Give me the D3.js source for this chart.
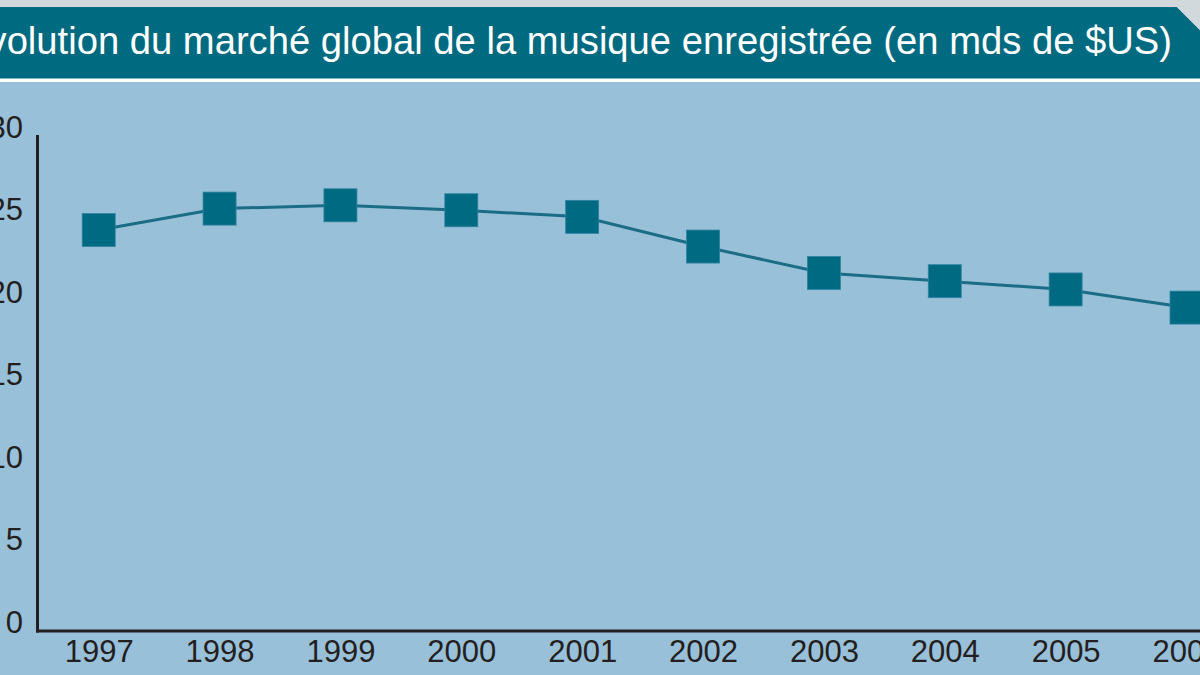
<!DOCTYPE html>
<html>
<head>
<meta charset="utf-8">
<script src="https://cdn.jsdelivr.net/npm/d3@7"></script>
<style>
  body { margin: 0; padding: 0; background: #99c0d9; overflow: hidden; }
  svg { display: block; }
</style>
</head>
<body>
<div id="chart"></div>
<script>
// data
var years = ["1997", "1998", "1999", "2000", "2001", "2002", "2003", "2004", "2005", "2006"]
var sales = [24.3, 25.6, 25.8, 25.5, 25.1, 23.3, 21.7, 21.2, 20.7, 19.6]
var yTicks = [0, 5, 10, 15, 20, 25, 30]
var title = "Évolution du marché global de la musique enregistrée (en mds de $US)"

var width = 1200
var height = 675
var teal = "#006a80"

var svg = d3.select("div#chart")
  .append("svg")
  .attr("width", width)
  .attr("height", height)

// background
svg.append("rect")
  .attr("x", 0).attr("y", 0)
  .attr("width", width).attr("height", height)
  .style("fill", "#99c0d9")

svg.append("rect")
  .attr("x", 0).attr("y", 0)
  .attr("width", width).attr("height", 82)
  .style("fill", "#ffffff")

svg.append("rect")
  .attr("x", 0).attr("y", 0)
  .attr("width", width).attr("height", 7)
  .style("fill", "#d2d9dc")

// title band with the cut corner top right
svg.append("path")
  .attr("d", "M0,7 L1177,7 L1200,30 L1200,78.5 L0,78.5 Z")
  .style("fill", teal)

svg.append("path")
  .attr("d", "M1177,7 L1200,7 L1200,30 Z")
  .style("fill", "#d2d9dc")

// title runs off the left edge, like in the original
svg.append("text")
  .attr("x", 1172)
  .attr("y", 54)
  .attr("text-anchor", "end")
  .style("font-family", "'Liberation Sans', Arial, sans-serif")
  .style("font-size", "38.2px")
  .style("fill", "#ffffff")
  .text(title)

// scales
var x = d3.scalePoint()
  .domain(years)
  .range([98.7, 1186.5])

var y = d3.scaleLinear()
  .domain([0, 30])
  .range([631, 136])

var labelFont = "'Liberation Sans', Arial, sans-serif"

// y axis labels (baseline sits on the value)
var yAxis = d3.axisLeft(y)
  .tickValues(yTicks)
  .tickSize(0)
  .tickPadding(0)

var gy = svg.append("g")
  .attr("transform", "translate(23,0)")
  .call(yAxis)
gy.select(".domain").remove()
gy.selectAll("text")
  .attr("dy", "0")
  .attr("y", 1)
  .style("font-family", labelFont)
  .style("font-size", "31px")
  .style("fill", "#231f20")

// x axis labels
var xAxis = d3.axisBottom(x)
  .tickSize(0)
  .tickPadding(0)

var gx = svg.append("g")
  .attr("transform", "translate(0,662)")
  .call(xAxis)
gx.select(".domain").remove()
gx.selectAll("text")
  .attr("dy", "0")
  .attr("y", 0)
  .style("font-family", labelFont)
  .style("font-size", "31px")
  .style("fill", "#231f20")

// axis lines
svg.append("line")
  .attr("x1", 37.5).attr("x2", 37.5)
  .attr("y1", 135).attr("y2", y(0) + 1.5)
  .style("stroke", "#231f20")
  .style("stroke-width", 3)

svg.append("line")
  .attr("x1", 36).attr("x2", width)
  .attr("y1", y(0)).attr("y2", y(0))
  .style("stroke", "#231f20")
  .style("stroke-width", 3)

// the line
var line = d3.line()
  .x(function (d, i) { return x(years[i]) })
  .y(function (d) { return y(d) })

svg.append("path")
  .datum(sales)
  .attr("d", line)
  .style("fill", "none")
  .style("stroke", "#1b6d85")
  .style("stroke-width", 3)

// square markers
var size = 33
svg.selectAll(".marker")
  .data(sales)
  .enter()
  .append("rect")
  .attr("class", "marker")
  .attr("x", function (d, i) { return x(years[i]) - size / 2 })
  .attr("y", function (d) { return y(d) - size / 2 })
  .attr("width", size)
  .attr("height", size)
  .style("fill", "#006a82")
  .style("stroke", "#2f84a0")
  .style("stroke-width", 0.8)
</script>
</body>
</html>
